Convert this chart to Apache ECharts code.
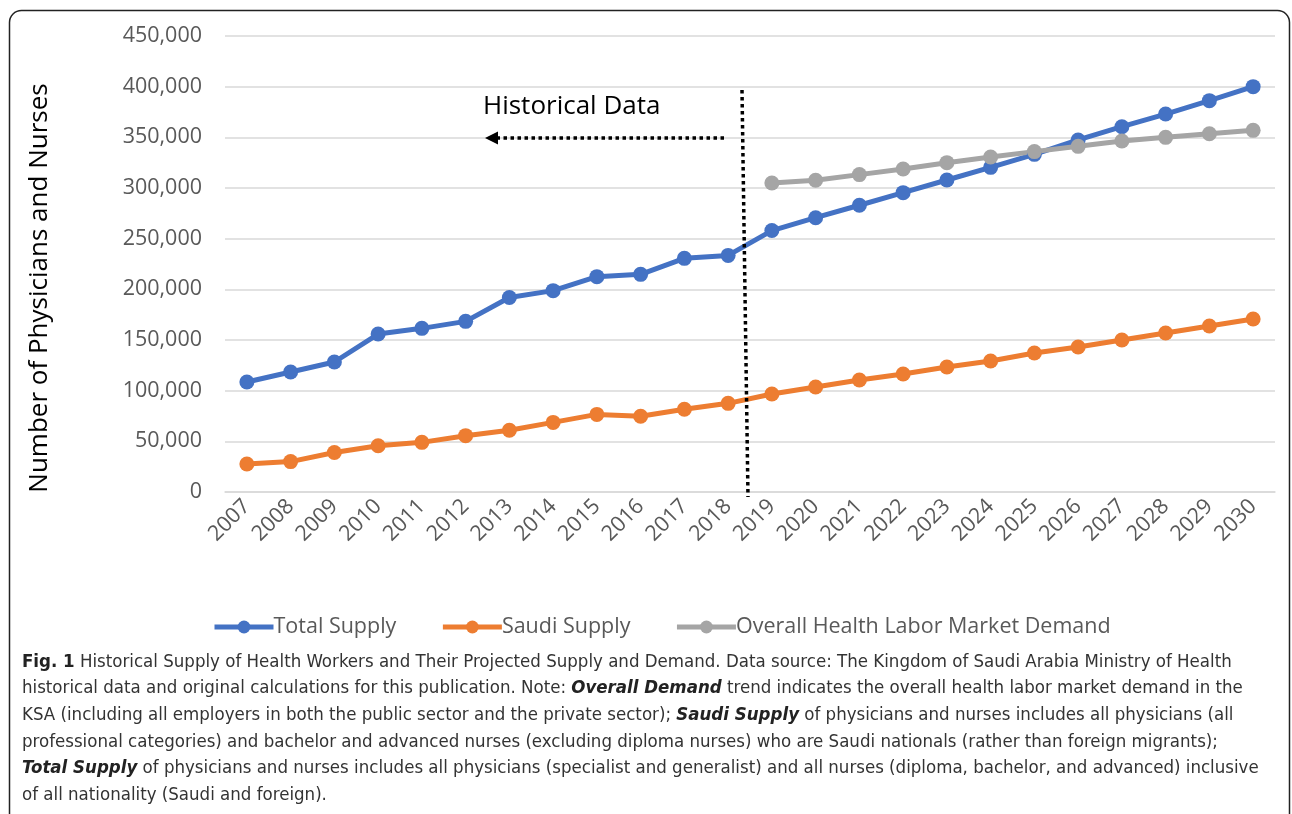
<!DOCTYPE html>
<html>
<head>
<meta charset="utf-8">
<script src="https://cdn.jsdelivr.net/npm/echarts@6/dist/echarts.min.js"></script>
<style>
  html, body { margin: 0; padding: 0; background: #fff; }
  #main { width: 1292px; height: 814px; }
</style>
</head>
<body>
<div id="main"></div>
<script>
// data
const years = ['2007', '2008', '2009', '2010', '2011', '2012', '2013', '2014', '2015', '2016', '2017', '2018',
  '2019', '2020', '2021', '2022', '2023', '2024', '2025', '2026', '2027', '2028', '2029', '2030'];
const totalSupply = [108500, 118400, 128300, 155900, 161500, 168400, 192000, 198700, 212500, 214800, 230600, 233500,
  258000, 270700, 283000, 295400, 307900, 320400, 333200, 347400, 360500, 373000, 386200, 400000];
const saudiSupply = [27600, 30000, 39000, 45700, 49000, 55600, 61000, 68700, 76600, 74700, 81600, 87500,
  96700, 103600, 110500, 116500, 123400, 129300, 137200, 143100, 150000, 156900, 163800, 170700];
const overallDemand = [null, null, null, null, null, null, null, null, null, null, null, null,
  305000, 307600, 313200, 318800, 325000, 330600, 335900, 341100, 346400, 350000, 353600, 356900];
const seriesNames = ['Total Supply', 'Saudi Supply', 'Overall Health Labor Market Demand'];
const yTicks = { min: 0, max: 450000, interval: 50000 };

const captionLines = [
  '{b|Fig. 1} Historical Supply of Health Workers and Their Projected Supply and Demand. Data source: The Kingdom of Saudi Arabia Ministry of Health',
  'historical data and original calculations for this publication. Note: {bi|Overall Demand} trend indicates the overall health labor market demand in the',
  'KSA (including all employers in both the public sector and the private sector); {bi|Saudi Supply} of physicians and nurses includes all physicians (all',
  'professional categories) and bachelor and advanced nurses (excluding diploma nurses) who are Saudi nationals (rather than foreign migrants);',
  '{bi|Total Supply} of physicians and nurses includes all physicians (specialist and generalist) and all nurses (diploma, bachelor, and advanced) inclusive',
  'of all nationality (Saudi and foreign).'
];

const chart = echarts.init(document.getElementById('main'));
const font = '"Open Sans", "Noto Sans", sans-serif';
const capFont = '"Liberation Sans Narrow", "DejaVu Sans Condensed", "Noto Sans", sans-serif';
const colors = ['#4472C4', '#ED7D31', '#A5A5A5'];

function makeSeries(name, data, color) {
  return {
    name: name,
    type: 'line',
    data: data,
    symbol: 'circle',
    symbolSize: 15,
    connectNulls: false,
    lineStyle: { color: color, width: 5 },
    itemStyle: { color: color },
    emphasis: { disabled: true },
    z: 3
  };
}

const graphics = [
  // frame
  { type: 'rect', shape: { x: 9.5, y: 10.5, width: 1280, height: 830, r: 12 },
    style: { fill: 'none', stroke: '#222', lineWidth: 1.5 }, silent: true },
  // axis title
  { type: 'text', x: 40, y: 288, rotation: Math.PI / 2,
    style: { text: 'Number of Physicians and Nurses', font: '26px ' + font, fill: '#000',
      align: 'center', verticalAlign: 'middle' } },
  // historical divider
  { type: 'line', shape: { x1: 742, y1: 90, x2: 748, y2: 497 },
    style: { stroke: '#000', lineWidth: 3.5, lineDash: [3.5, 3.5] }, z: 10 },
  { type: 'line', shape: { x1: 724, y1: 138, x2: 497, y2: 138 },
    style: { stroke: '#000', lineWidth: 3.5, lineDash: [3.5, 3.5] }, z: 10 },
  { type: 'polygon', shape: { points: [[485, 138], [498, 131.5], [498, 144.5]] },
    style: { fill: '#000' }, z: 10 },
  { type: 'text', x: 483, y: 107,
    style: { text: 'Historical Data', font: '26px ' + font, fill: '#000', verticalAlign: 'middle' }, z: 10 }
];

captionLines.forEach(function (line, i) {
  graphics.push({
    type: 'text', x: 22, y: 662 + i * 26.6,
    style: {
      text: line,
      font: '18.5px ' + capFont,
      fill: '#333',
      verticalAlign: 'middle',
      rich: {
        b: { font: 'bold 18.5px ' + capFont, fill: '#222' },
        bi: { font: 'italic bold 18.5px ' + capFont, fill: '#222' }
      }
    }
  });
});

const option = {
  backgroundColor: '#fff',
  animation: false,
  textStyle: { fontFamily: font },
  grid: { left: 225, right: 17, top: 36, bottom: 322, containLabel: false },
  legend: {
    data: seriesNames,
    left: 207,
    top: 611,
    itemWidth: 59,
    itemHeight: 16,
    itemGap: 44,
    lineStyle: { width: 5 },
    textStyle: { fontSize: 21.5, color: '#595959', fontFamily: font, padding: [0, 0, 0, -5] }
  },
  xAxis: {
    type: 'category',
    data: years,
    boundaryGap: true,
    axisLine: { show: true, lineStyle: { color: '#d9d9d9', width: 1.5 } },
    axisTick: { show: false },
    axisLabel: { rotate: 45, fontSize: 21.5, color: '#595959', margin: 11, interval: 0 }
  },
  yAxis: {
    type: 'value',
    min: yTicks.min,
    max: yTicks.max,
    interval: yTicks.interval,
    axisLine: { show: false },
    axisTick: { show: false },
    splitLine: { lineStyle: { color: '#d9d9d9', width: 1.5 } },
    axisLabel: {
      fontSize: 21.5, color: '#595959', margin: 23,
      formatter: function (v) { return v.toLocaleString('en-US'); }
    }
  },
  series: [
    makeSeries(seriesNames[0], totalSupply, colors[0]),
    makeSeries(seriesNames[1], saudiSupply, colors[1]),
    makeSeries(seriesNames[2], overallDemand, colors[2])
  ],
  graphic: graphics
};

chart.setOption(option);
</script>
</body>
</html>
